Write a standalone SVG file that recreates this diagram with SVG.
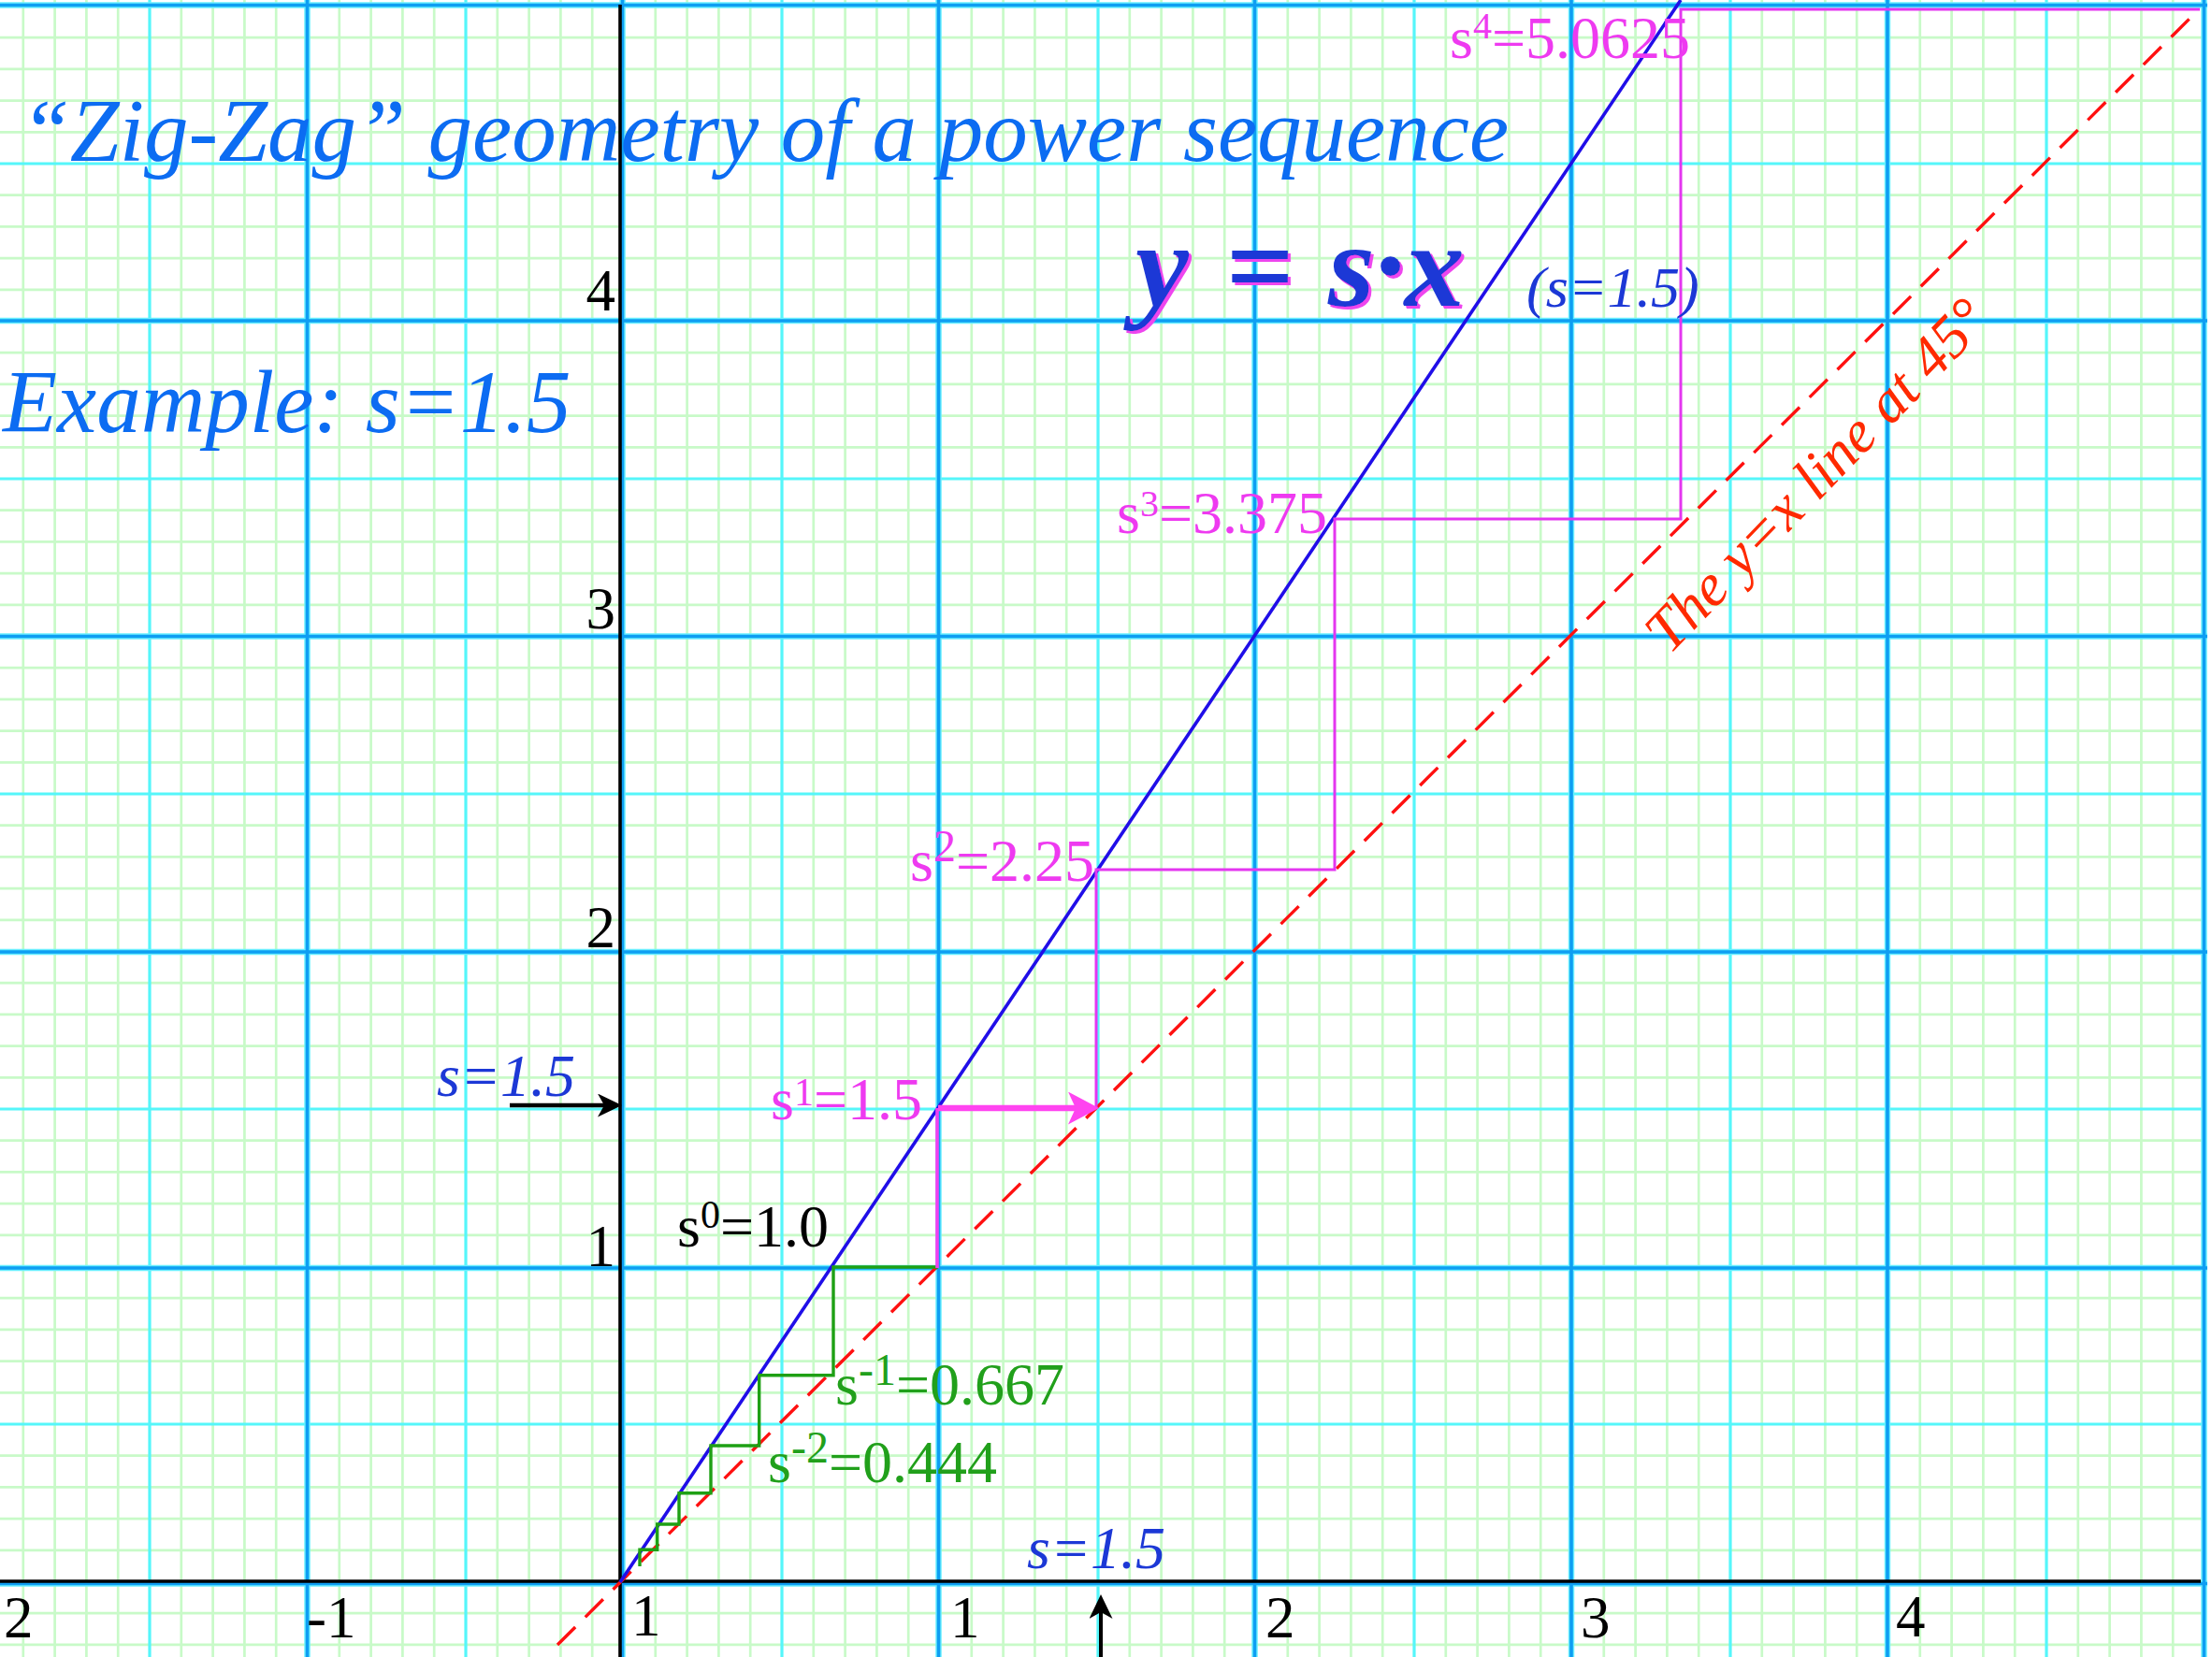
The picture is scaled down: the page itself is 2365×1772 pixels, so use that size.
<svg xmlns="http://www.w3.org/2000/svg" width="2365" height="1772" viewBox="0 0 2365 1772">
<style>
.minor{stroke:#c8fac8;stroke-width:2.7;fill:none}
.half{stroke:#55f6fa;stroke-width:3.2;fill:none}
.majU{stroke:#6aefff;stroke-width:6.5;fill:none}
.maj{stroke:#0e9ef2;stroke-width:3.6;fill:none}
.axis{stroke:#000;stroke-width:3.6;fill:none}
text{font-family:"Liberation Serif","Times New Roman",serif}
.it{font-style:italic}
.num{font-size:63px;fill:#000}
.lab{font-size:64px}
.mag{fill:#ee3af0}
.grn{fill:#21a01b}
.blk{fill:#000}
.blu{fill:#1c38d6}
.ttl{font-size:95px;font-style:italic;fill:#0c6cf2}
</style>
<defs>
<marker id="arrK" markerUnits="userSpaceOnUse" markerWidth="30" markerHeight="30" refX="7" refY="12.5" orient="auto">
<path d="M0,0 L26,12.5 L0,25 L7,12.5 Z" fill="#000"/>
</marker>
<marker id="arrM" markerUnits="userSpaceOnUse" markerWidth="40" markerHeight="40" refX="8" refY="17.5" orient="auto">
<path d="M0,0 L33,17.5 L0,35 L8,17.5 Z" fill="#ff44f0"/>
</marker>
<filter id="shadow" x="-10%" y="-10%" width="130%" height="130%">
<feDropShadow dx="3" dy="3" stdDeviation="0" flood-color="#ee44ee" flood-opacity="1"/>
</filter>
</defs>
<rect width="2365" height="1772" fill="#fff"/>
<g id="grid">
<path class="minor" d="M24.8 0V1772M58.6 0V1772M92.4 0V1772M126.2 0V1772M193.8 0V1772M227.6 0V1772M261.4 0V1772M295.2 0V1772M362.8 0V1772M396.6 0V1772M430.4 0V1772M464.2 0V1772M531.8 0V1772M565.6 0V1772M599.4 0V1772M633.2 0V1772M700.8 0V1772M734.6 0V1772M768.4 0V1772M802.2 0V1772M869.8 0V1772M903.6 0V1772M937.4 0V1772M971.2 0V1772M1038.8 0V1772M1072.6 0V1772M1106.4 0V1772M1140.2 0V1772M1207.8 0V1772M1241.6 0V1772M1275.4 0V1772M1309.2 0V1772M1376.8 0V1772M1410.6 0V1772M1444.4 0V1772M1478.2 0V1772M1545.8 0V1772M1579.6 0V1772M1613.4 0V1772M1647.2 0V1772M1714.8 0V1772M1748.6 0V1772M1782.4 0V1772M1816.2 0V1772M1883.8 0V1772M1917.6 0V1772M1951.4 0V1772M1985.2 0V1772M2052.8 0V1772M2086.6 0V1772M2120.4 0V1772M2154.2 0V1772M2221.8 0V1772M2255.6 0V1772M2289.4 0V1772M2323.2 0V1772"/>
<path class="minor" d="M0 1758.9H2358M0 1725.2H2358M0 1657.8H2358M0 1624.1H2358M0 1590.4H2358M0 1556.7H2358M0 1489.3H2358M0 1455.6H2358M0 1421.9H2358M0 1388.2H2358M0 1320.8H2358M0 1287.1H2358M0 1253.4H2358M0 1219.7H2358M0 1152.3H2358M0 1118.6H2358M0 1084.9H2358M0 1051.2H2358M0 983.8H2358M0 950.1H2358M0 916.4H2358M0 882.7H2358M0 815.3H2358M0 781.6H2358M0 747.9H2358M0 714.2H2358M0 646.8H2358M0 613.1H2358M0 579.4H2358M0 545.7H2358M0 478.3H2358M0 444.6H2358M0 410.9H2358M0 377.2H2358M0 309.8H2358M0 276.1H2358M0 242.4H2358M0 208.7H2358M0 141.3H2358M0 107.6H2358M0 73.9H2358M0 40.2H2358"/>
<path class="half" d="M160 0V1772M498 0V1772M836 0V1772M1174 0V1772M1512 0V1772M1850 0V1772M2188 0V1772M0 1523H2358M0 1186H2358M0 849H2358M0 512H2358M0 175H2358"/>
<path class="majU" d="M328.5 0V1772M665.5 0V1772M1003.5 0V1772M1341.5 0V1772M1680 0V1772M2018 0V1772M2356.5 0V1772M0 1693.5H2360M0 1356H2360M0 1018H2360M0 680.5H2360M0 343H2360M0 5.5H2360"/>
<path class="maj" d="M328.5 0V1772M665.5 0V1772M1003.5 0V1772M1341.5 0V1772M1680 0V1772M2018 0V1772M2356.5 0V1772M0 1693.5H2360M0 1356H2360M0 1018H2360M0 680.5H2360M0 343H2360M0 5.5H2360"/>
</g>
<g id="axes">
<path class="axis" d="M663 5V1772M0 1691H2353"/>
</g>
<g id="connectors">
<path id="diag" d="M596 1759L2349 12" stroke="#ff1010" stroke-width="3.4" stroke-dasharray="27 15" fill="none"/>
<path id="sline" d="M663 1692L1797 0" stroke="#200ee8" stroke-width="3.6" fill="none"/>
<path id="zig-green" d="M1003 1355H891 V1470.7 H811.7 V1546 H760 V1596.7 H726 V1630 H702.7 V1657.3 H684 V1675" stroke="#1ea014" stroke-width="3.4" fill="none"/>
<path id="zig-mag1" d="M1002 1356V1185" stroke="#f040f0" stroke-width="3.6" fill="none"/>
<path id="zig-mag" d="M1172 1185V930H1427V555H1797V10H2352" stroke="#e436f0" stroke-width="3" fill="none"/>
<path id="arrow-mag" d="M1003 1185H1150" stroke="#ff44f0" stroke-width="6.5" fill="none" marker-end="url(#arrM)"/>
<path id="arrow-left" d="M545 1182H646" stroke="#000" stroke-width="4.5" fill="none" marker-end="url(#arrK)"/>
<path id="arrow-bottom" d="M1177 1772V1724" stroke="#000" stroke-width="4" fill="none" marker-end="url(#arrK)"/>
</g>
<g id="title">
<text class="ttl" x="22" y="172">“Zig-Zag” geometry of a power sequence</text>
</g>
<g id="example">
<text class="ttl" x="3" y="462">Example: s=1.5</text>
</g>
<g id="equation">
<text style="font-size:128px;font-style:italic;font-weight:bold" class="blu" y="327" filter="url(#shadow)"><tspan x="1214">y</tspan><tspan x="1310">=</tspan><tspan x="1420">s·x</tspan></text>
<text class="it blu" x="1632" y="328" style="font-size:62px">(s=1.5)</text>
</g>
<g id="diag-label">
<text class="it" transform="translate(1785,701) rotate(-46)" style="font-size:64px" fill="#ff2a00">The y=x line at 45°</text>
</g>
<g id="s-labels">
<text class="it blu lab" x="467" y="1172">s=1.5</text>
<text class="it blu lab" x="1098" y="1677">s=1.5</text>
</g>
<g id="y-ticks">
<text class="num" x="658" y="332" text-anchor="end">4</text>
<text class="num" x="658" y="672" text-anchor="end">3</text>
<text class="num" x="658" y="1013" text-anchor="end">2</text>
<text class="num" x="658" y="1354" text-anchor="end">1</text>
</g>
<g id="x-ticks">
<text class="num" x="4" y="1751">2</text>
<text class="num" x="328" y="1751">-1</text>
<text class="num" x="675" y="1749">1</text>
<text class="num" x="1016" y="1751">1</text>
<text class="num" x="1353" y="1751">2</text>
<text class="num" x="1690" y="1751">3</text>
<text class="num" x="2027" y="1750">4</text>
</g>
<g id="s0"><text class="lab blk" x="724" y="1333">s<tspan font-size="42" dy="-20">0</tspan><tspan dy="20">=1.0</tspan></text></g>
<g id="s1"><text class="lab mag" x="824" y="1197">s<tspan font-size="42" dy="-15">1</tspan><tspan dy="15">=1.5</tspan></text></g>
<g id="s2"><text class="lab mag" x="973" y="942">s<tspan font-size="48" dy="-21">2</tspan><tspan dy="21">=2.25</tspan></text></g>
<g id="s3"><text class="lab mag" x="1194" y="570">s<tspan font-size="40" dy="-18">3</tspan><tspan dy="18">=3.375</tspan></text></g>
<g id="s4"><text class="lab mag" x="1550" y="62">s<tspan font-size="40" dy="-21">4</tspan><tspan dy="21">=5.0625</tspan></text></g>
<g id="sm1"><text class="lab grn" x="893" y="1502">s<tspan font-size="48" dy="-21">-1</tspan><tspan dy="21">=0.667</tspan></text></g>
<g id="sm2"><text class="lab grn" x="821" y="1585">s<tspan font-size="48" dy="-21">-2</tspan><tspan dy="21">=0.444</tspan></text></g>
</svg>
